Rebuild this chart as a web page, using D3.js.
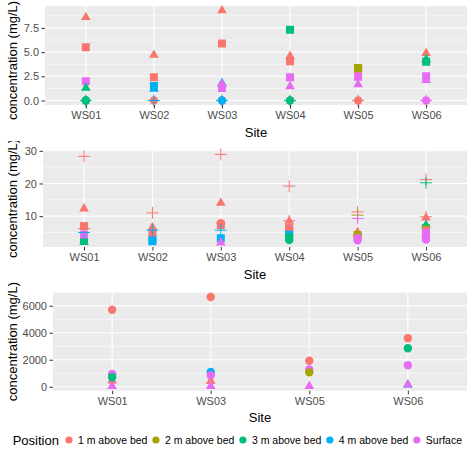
<!DOCTYPE html>
<html><head><meta charset="utf-8">
<script src="https://cdn.jsdelivr.net/npm/d3@7"></script>
<style>body{margin:0;background:#fff}svg{display:block}text{font-family:"Liberation Sans",Arial,sans-serif}</style>
</head><body><svg id="chart" width="474" height="450"></svg>
<script>
// ---------- data ----------
const positionKeys   = ["1m", "2m", "3m", "4m", "Surf"];
const positionLabels = ["1 m above bed", "2 m above bed", "3 m above bed", "4 m above bed", "Surface"];
const positionColors = ["#F8766D", "#A3A500", "#00BF7D", "#00B0F6", "#E76BF3"];

// Panel 1
const p1Sites = ["WS01", "WS02", "WS03", "WS04", "WS05", "WS06"];
const p1Site  = ["WS01","WS01","WS01","WS01","WS01","WS01","WS01","WS01",
                 "WS02","WS02","WS02","WS02","WS02","WS02",
                 "WS03","WS03","WS03","WS03","WS03","WS03","WS03","WS03",
                 "WS04","WS04","WS04","WS04","WS04","WS04","WS04","WS04",
                 "WS05","WS05","WS05","WS05","WS05","WS05",
                 "WS06","WS06","WS06","WS06","WS06","WS06","WS06"];
const p1Pos   = ["1m","4m","3m","3m","Surf","3m","1m","1m",
                 "1m","4m","1m","4m","4m","1m",
                 "1m","4m","4m","4m","Surf","Surf","1m","1m",
                 "1m","3m","3m","1m","1m","3m","Surf","Surf",
                 "1m","1m","1m","2m","Surf","Surf",
                 "Surf","Surf","1m","3m","3m","Surf","Surf"];
const p1Shape = ["circle","circle","circle","plus","square","triangle","square","triangle",
                 "circle","plus","square","square","triangle","triangle",
                 "circle","circle","plus","triangle","square","triangle","square","triangle",
                 "circle","circle","plus","square","triangle","square","square","triangle",
                 "circle","plus","square","square","triangle","square",
                 "circle","plus","triangle","triangle","square","triangle","square"];
const p1Value = [0,0,0,0,2.0,1.3,5.5,8.6,
                 0,0,2.4,1.5,1.2,4.7,
                 0,0,0,1.8,1.3,1.7,5.9,9.3,
                 0,0,0,4.05,4.6,7.3,2.4,1.45,
                 0,0,3.2,3.35,1.65,2.45,
                 0,0,4.9,4.25,4.0,2.1,2.5];
const p1Ticks = [0, 2.5, 5, 7.5];
const p1TickLabels = ["0.0", "2.5", "5.0", "7.5"];
const p1Minor = [1.25, 3.75, 6.25, 8.75];

// Panel 2
const p2Sites = ["WS01", "WS02", "WS03", "WS04", "WS05", "WS06"];
const p2Site  = ["WS01","WS01","WS01","WS01","WS01","WS01","WS01","WS01",
                 "WS02","WS02","WS02","WS02","WS02","WS02",
                 "WS03","WS03","WS03","WS03","WS03","WS03","WS03",
                 "WS04","WS04","WS04","WS04","WS04","WS04","WS04","WS04",
                 "WS05","WS05","WS05","WS05","WS05","WS05","WS05","WS05",
                 "WS06","WS06","WS06","WS06","WS06","WS06","WS06","WS06","WS06","WS06","WS06","WS06"];
const p2Pos   = ["3m","3m","Surf","4m","1m","1m","1m","1m",
                 "4m","4m","1m","1m","4m","1m",
                 "4m","Surf","1m","1m","4m","1m","1m",
                 "1m","1m","4m","3m","3m","Surf","1m","1m",
                 "1m","2m","2m","Surf","Surf","1m","2m","Surf",
                 "1m","1m","3m","3m","2m","1m","Surf","Surf","Surf","Surf","1m","3m"];
const p2Shape = ["triangle","square","square","plus","square","plus","triangle","plus",
                 "square","square","square","triangle","plus","plus",
                 "square","triangle","square","circle","plus","triangle","plus",
                 "square","square","square","square","circle","plus","triangle","plus",
                 "triangle","square","circle","circle","circle","plus","plus","plus",
                 "triangle","plus","triangle","square","square","square","circle","circle","circle","circle","plus","plus"];
const p2Value = [2.0,2.5,4.4,5.0,7.0,6.2,12.3,28.3,
                 2.3,3.0,5.0,6.6,5.7,11.0,
                 3.2,1.9,7.2,7.8,5.7,14.0,28.9,
                 6.4,5.5,4.3,3.5,2.7,8.6,8.5,19.2,
                 5.0,4.2,3.8,3.3,2.6,11.3,10.3,9.3,
                 9.5,9.8,7.2,6.4,5.9,5.5,5.0,4.2,3.5,2.8,21.2,20.2];
const p2Ticks = [10, 20, 30];
const p2TickLabels = ["10", "20", "30"];
const p2Minor = [5, 15, 25];

// Panel 3
const p3Sites = ["WS01", "WS03", "WS05", "WS06"];
const p3Site  = ["WS01","WS01","WS01","WS01","WS01","WS01",
                 "WS03","WS03","WS03","WS03","WS03",
                 "WS05","WS05","WS05","WS05",
                 "WS06","WS06","WS06","WS06","WS06"];
const p3Pos   = ["1m","Surf","4m","Surf","3m","1m",
                 "1m","Surf","4m","Surf","1m",
                 "Surf","1m","Surf","2m",
                 "4m","Surf","1m","3m","Surf"];
const p3Shape = ["triangle","triangle","circle","circle","circle","circle",
                 "triangle","triangle","circle","circle","circle",
                 "triangle","circle","circle","circle",
                 "triangle","triangle","circle","circle","circle"];
const p3Value = [450,40,880,950,700,5700,
                 420,40,1100,850,6650,
                 50,1930,1290,1070,
                 150,150,3600,2850,1600];
const p3Ticks = [0, 2000, 4000, 6000];
const p3TickLabels = ["0", "2000", "4000", "6000"];
const p3Minor = [1000, 3000, 5000];

// ---------- drawing ----------
const svg = d3.select("#chart");
const colorScale = d3.scaleOrdinal().domain(positionKeys).range(positionColors);
const FONT = '"Liberation Sans", Arial, sans-serif';

function shapePath(shape) {
  if (shape === "circle") return d3.symbol(d3.symbolCircle, Math.PI * 4.2 * 4.2)();
  if (shape === "square") return d3.symbol(d3.symbolSquare, 64)();
  if (shape === "triangle") {
    const r = 5.6, xc = r * Math.sqrt(3) / 2;
    return `M0,${-r}L${xc},${r / 2}L${-xc},${r / 2}Z`;
  }
  return "M-6,0H6M0,-6V6"; // plus
}

function drawPanel(idx, cfg) {
  const clipId = "clip" + idx;
  svg.append("clipPath").attr("id", clipId).append("rect")
    .attr("x", 0).attr("y", cfg.clipTop).attr("width", 474).attr("height", cfg.clipBottom - cfg.clipTop);
  const g = svg.append("g").attr("clip-path", `url(#${clipId})`);
  const { l, r, t, b } = cfg.plot;

  const x = d3.scalePoint().domain(cfg.sites).range([l, r]).padding(0.6);
  const ext = d3.extent(cfg.value);
  const pad = (ext[1] - ext[0]) * 0.05;
  const y = d3.scaleLinear().domain([ext[0] - pad, ext[1] + pad]).range([b, t]);

  g.append("rect").attr("x", l).attr("y", t).attr("width", r - l).attr("height", b - t).attr("fill", "#EBEBEB");
  g.selectAll(".minor").data(cfg.minor).join("line")
    .attr("x1", l).attr("x2", r).attr("y1", d => y(d)).attr("y2", d => y(d))
    .attr("stroke", "#fff").attr("stroke-width", 0.55);
  g.selectAll(".major").data(cfg.ticks).join("line")
    .attr("x1", l).attr("x2", r).attr("y1", d => y(d)).attr("y2", d => y(d))
    .attr("stroke", "#fff").attr("stroke-width", 1.1);
  g.selectAll(".vmajor").data(cfg.sites).join("line")
    .attr("x1", d => x(d)).attr("x2", d => x(d)).attr("y1", t).attr("y2", b)
    .attr("stroke", "#fff").attr("stroke-width", 1.1);

  const pts = cfg.value.map((v, i) => ({ site: cfg.site[i], pos: cfg.pos[i], shape: cfg.shape[i], value: v }));
  const pg = g.append("g");
  pg.selectAll("path").data(pts).join("path")
    .attr("transform", d => `translate(${x(d.site)},${y(d.value)})`)
    .attr("d", d => shapePath(d.shape))
    .attr("fill", d => d.shape === "plus" ? "none" : colorScale(d.pos))
    .attr("stroke", d => d.shape === "plus" ? colorScale(d.pos) : "none")
    .attr("stroke-width", d => d.shape === "plus" ? 1 : 0);

  // y axis
  const ya = g.append("g").attr("transform", `translate(${l},0)`)
    .call(d3.axisLeft(y).tickValues(cfg.ticks).tickSize(3.5).tickPadding(2.5)
      .tickFormat((d, i) => cfg.tickLabels[i]));
  ya.select(".domain").remove();
  ya.selectAll(".tick line").attr("stroke", "#333").attr("stroke-width", 1);
  ya.selectAll(".tick text").attr("fill", "#4D4D4D").style("font-size", "11px").style("font-family", FONT);

  // x axis
  const xa = g.append("g").attr("transform", `translate(0,${b})`)
    .call(d3.axisBottom(x).tickSize(3.5).tickPadding(3));
  xa.select(".domain").remove();
  xa.selectAll(".tick line").attr("stroke", "#333").attr("stroke-width", 1);
  xa.selectAll(".tick text").attr("fill", "#4D4D4D").style("font-size", "11px").style("font-family", FONT);

  g.append("text").attr("x", (l + r) / 2).attr("y", b + 31.5).attr("text-anchor", "middle")
    .style("font-size", "13px").attr("fill", "#000").text("Site");
  const cy = cfg.titleCy != null ? cfg.titleCy : (t + b) / 2;
  g.append("text").attr("transform", `translate(16.7,${cy}) rotate(-90)`)
    .attr("text-anchor", "middle").style("font-size", "13px").attr("fill", "#000")
    .text("concentration (mg/L)");
}

drawPanel(1, { clipTop: 0, clipBottom: 140.5, plot: { l: 45, r: 467, t: 6, b: 105 }, titleCy: 60.5,
  sites: p1Sites, site: p1Site, pos: p1Pos, shape: p1Shape, value: p1Value,
  ticks: p1Ticks, tickLabels: p1TickLabels, minor: p1Minor });
drawPanel(2, { clipTop: 141, clipBottom: 281.5, plot: { l: 43, r: 467, t: 150, b: 247 },
  sites: p2Sites, site: p2Site, pos: p2Pos, shape: p2Shape, value: p2Value,
  ticks: p2Ticks, tickLabels: p2TickLabels, minor: p2Minor });
drawPanel(3, { clipTop: 282, clipBottom: 450, plot: { l: 53, r: 467, t: 292.5, b: 390.7 },
  sites: p3Sites, site: p3Site, pos: p3Pos, shape: p3Shape, value: p3Value,
  ticks: p3Ticks, tickLabels: p3TickLabels, minor: p3Minor });

// legend
const lg = svg.append("g");
const title = lg.append("text").attr("x", 12.7).attr("y", 445).style("font-size", "13px").attr("fill", "#000").text("Position");
let cx = 12.7 + title.node().getComputedTextLength() + 10;
positionKeys.forEach((k, i) => {
  lg.append("circle").attr("cx", cx).attr("cy", 440).attr("r", 3.6).attr("fill", colorScale(k));
  const t = lg.append("text").attr("x", cx + 9).attr("y", 444).style("font-size", "10.5px").attr("fill", "#000").text(positionLabels[i]);
  cx = cx + 9 + t.node().getComputedTextLength() + 8.5;
});
</script></body></html>
